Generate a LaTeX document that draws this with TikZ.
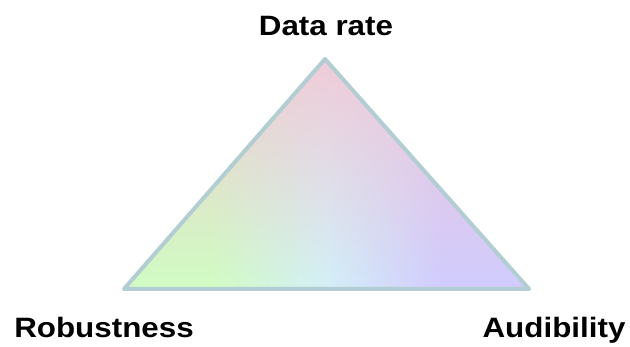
\documentclass[tikz,border=0pt]{standalone}
\usepackage{fontspec}
\usepackage{graphicx}
\setmainfont{Liberation Sans}
\usetikzlibrary{fadings}
\definecolor{edgeblue}{RGB}{178,206,210}
\definecolor{leafgreen}{RGB}{210,250,196}
\definecolor{icecyan}{RGB}{212,238,246}
\definecolor{lavender}{RGB}{210,204,252}
\definecolor{rosepink}{RGB}{244,198,212}
\pgfdeclarehorizontalshading{washlr}{100bp}{color(0bp)=(leafgreen); color(36bp)=(leafgreen); color(50bp)=(icecyan); color(64bp)=(lavender); color(100bp)=(lavender)}
\tikzfading[name=fadepink, top color=transparent!0, bottom color=transparent!100]
\newcommand{\widetext}[1]{\scalebox{1.12}[1]{#1}}
\tikzset{
  corner/.style={font=\bfseries\fontsize{28}{32}\selectfont, inner sep=0pt, anchor=base},
}
\begin{document}
\begin{tikzpicture}[x=1pt,y=-1pt]
\useasboundingbox (0,0) rectangle (630,347);
\coordinate (top) at (325,59);
\coordinate (left) at (124,289);
\coordinate (right) at (529,289);
% colour wash
\shade[shading=washlr] (top) -- (left) -- (right) -- cycle;
\begin{scope}
\clip (top) -- (left) -- (right) -- cycle;
\fill[rosepink, path fading=fadepink] (124,25) rectangle (529,275);
\end{scope}
\draw[edgeblue, line width=4, line join=round] (top) -- (left) -- (right) -- cycle;
% labels
\node[corner] (rate) at (326,36) {\widetext{Data rate}};
\node[corner] (robust) at (104,338) {\widetext{Robustness}};
\node[corner] (audib) at (554,338) {\widetext{Audibility}};
\end{tikzpicture}
\end{document}
